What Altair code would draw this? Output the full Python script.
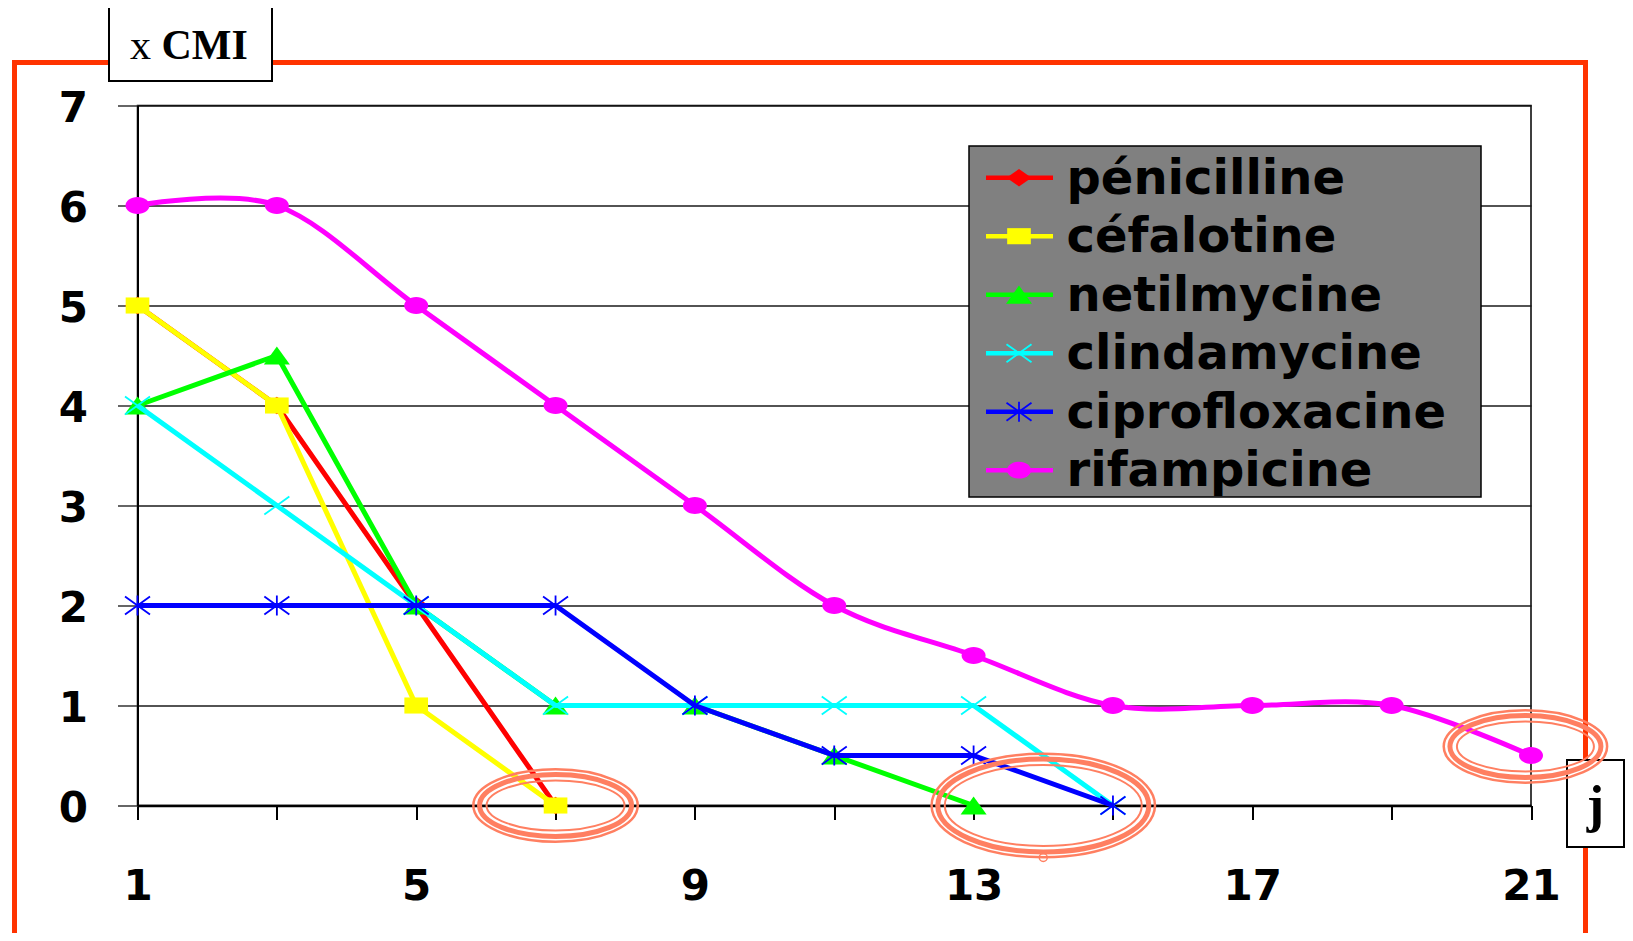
import altair as alt
import pandas as pd

# ---------------- data ----------------
days = [1, 3, 5, 7, 9, 11, 13, 15, 17, 19, 21]
series_names = ["pénicilline", "céfalotine", "netilmycine",
                "clindamycine", "ciprofloxacine", "rifampicine"]
penicilline = [5, 4, 2, 0]
cefalotine = [5, 4, 1, 0]
netilmycine = [4, 4.5, 2, 1, 1, 0.5, 0]
clindamycine = [4, 3, 2, 1, 1, 1, 1, 0]
ciprofloxacine = [2, 2, 2, 2, 1, 0.5, 0.5, 0]
rifampicine = [6, 6, 5, 4, 3, 2, 1.5, 1, 1, 1, 0.5]
series_values = [penicilline, cefalotine, netilmycine,
                 clindamycine, ciprofloxacine, rifampicine]

y_ticks = [0, 1, 2, 3, 4, 5, 6, 7]
x_ticks = days
x_labels = [1, 5, 9, 13, 17, 21]

# highlighted end points (annotation ellipses)
highlight_days = [7, 14, 20.92]
highlight_values = [0, 0, 0.59]

# ---------------- styles ----------------
colors = ["#FF0000", "#FFFF00", "#00FF00", "#00FFFF", "#0000FF", "#FF00FF"]
SALMON = "#FF7F61"
FRAME = "#FF3300"
LABEL_FONT = "DejaVu Sans"
SERIF = "Liberation Serif"
LINE_W = 5


def ell(r):
    k = 0.5523
    return (f"M-1,0 C-1,{-k*r:.4f} {-k:.4f},{-r:.4f} 0,{-r:.4f} "
            f"C{k:.4f},{-r:.4f} 1,{-k*r:.4f} 1,0 "
            f"C1,{k*r:.4f} {k:.4f},{r:.4f} 0,{r:.4f} "
            f"C{-k:.4f},{r:.4f} -1,{k*r:.4f} -1,0 Z")


markers = [
    dict(shape="M-1,0 L0,-0.7 L1,0 L0,0.7 Z", size=625, filled=True),
    dict(shape="M-1,-0.68 L1,-0.68 L1,0.68 L-1,0.68 Z", size=560, filled=True),
    dict(shape="M-1,0.7 L0,-0.7 L1,0.7 Z", size=676, filled=True),
    dict(shape="M-1,-0.72 L1,0.72 M-1,0.72 L1,-0.72", size=625, filled=False),
    dict(shape="M-1,-0.72 L1,0.72 M-1,0.72 L1,-0.72 M0,-0.8 L0,0.8", size=625, filled=False),
    dict(shape=ell(0.7), size=576, filled=True),
]

xscale = alt.Scale(domain=[1, 21], nice=False, zero=False)
yscale = alt.Scale(domain=[0, 7], nice=False, zero=False)

label_expr = "indexof([" + ",".join(str(v) for v in x_labels) + "], datum.value) >= 0 ? datum.label : ''"

xaxis = alt.Axis(values=x_ticks, labelExpr=label_expr, title=None, grid=False,
                 tickSize=14, tickWidth=2, tickColor="black",
                 domainColor="black", domainWidth=2.5,
                 labelFont=LABEL_FONT, labelFontWeight="bold", labelFontSize=42,
                 labelColor="black", labelPadding=47, labelFlush=False,
                 labelOverlap=False, labelBound=False)
yaxis = alt.Axis(values=y_ticks, title=None, grid=True, gridColor="#1a1a1a",
                 gridWidth=1.5, tickSize=20, tickWidth=1.5, tickColor="#333333",
                 domainColor="black", domainWidth=2,
                 labelFont=LABEL_FONT, labelFontWeight="bold", labelFontSize=42,
                 labelColor="black", labelPadding=30, labelOffset=3,
                 labelFlush=False, labelOverlap=False, labelBound=False)

dec = pd.DataFrame({"k": [0]})
layers = []

# red frame
layers.append(alt.Chart(dec).mark_rect(fillOpacity=0, stroke=FRAME, strokeWidth=5).encode(
    x=alt.value(-123), x2=alt.value(1448), y=alt.value(-43), y2=alt.value(833.5)))

# "x CMI" box
layers.append(alt.Chart(dec).mark_rect(fill="white", stroke="black", strokeWidth=2).encode(
    x=alt.value(-28.5), x2=alt.value(134.5), y=alt.value(-98.5), y2=alt.value(-24.5)))
layers.append(alt.Chart(dec).mark_text(text="x", font=SERIF, fontSize=42, align="left",
                                       baseline="alphabetic", color="black").encode(
    x=alt.value(-7.5), y=alt.value(-46.5)))
layers.append(alt.Chart(dec).mark_text(text="CMI", font=SERIF, fontSize=42, fontWeight="bold",
                                       align="left", baseline="alphabetic", color="black").encode(
    x=alt.value(24), y=alt.value(-46.5)))

# "j" box
layers.append(alt.Chart(dec).mark_rect(fill="white", stroke="black", strokeWidth=2).encode(
    x=alt.value(1429.5), x2=alt.value(1486.5), y=alt.value(654.5), y2=alt.value(741.5)))
layers.append(alt.Chart(dec).mark_text(text="j", font=SERIF, fontSize=52, fontWeight="bold",
                                       align="center", baseline="alphabetic", color="black").encode(
    x=alt.value(1458), y=alt.value(716.5)))

# series
for name, vals, col, mk in zip(series_names, series_values, colors, markers):
    df = pd.DataFrame({"day": days[:len(vals)], "value": vals, "drug": name})
    enc = dict(x=alt.X("day:Q", scale=xscale, axis=xaxis),
               y=alt.Y("value:Q", scale=yscale, axis=yaxis))
    interp = "cardinal" if name == "rifampicine" else "linear"
    layers.append(alt.Chart(df).mark_line(color=col, strokeWidth=LINE_W, interpolate=interp,
                                          strokeJoin="round").encode(**enc))
    if mk["filled"]:
        pm = alt.Chart(df).mark_point(shape=mk["shape"], size=mk["size"], filled=True,
                                      color=col, opacity=1, strokeWidth=0)
    else:
        pm = alt.Chart(df).mark_point(shape=mk["shape"], size=mk["size"], filled=False,
                                      color=col, opacity=1, strokeWidth=1.8)
    layers.append(pm.encode(**enc))

# legend
layers.append(alt.Chart(dec).mark_rect(fill="#808080", stroke="black", strokeWidth=1.5).encode(
    x=alt.value(831.5), x2=alt.value(1343.5), y=alt.value(40.5), y2=alt.value(391.5)))
for i, (name, col, mk) in enumerate(zip(series_names, colors, markers)):
    ly = 72.2 + 58.5 * i
    ld = pd.DataFrame({"name": [name]})
    layers.append(alt.Chart(ld).mark_rule(color=col, strokeWidth=4.5).encode(
        x=alt.value(848.5), x2=alt.value(915.5), y=alt.value(ly)))
    if mk["filled"]:
        lp = alt.Chart(ld).mark_point(shape=mk["shape"], size=mk["size"], filled=True,
                                      color=col, opacity=1, strokeWidth=0)
    else:
        lp = alt.Chart(ld).mark_point(shape=mk["shape"], size=mk["size"], filled=False,
                                      color=col, opacity=1, strokeWidth=1.8)
    layers.append(lp.encode(x=alt.value(881.5), y=alt.value(ly)))
    layers.append(alt.Chart(ld).mark_text(font=LABEL_FONT, fontSize=48, fontWeight="bold",
                                          align="left", baseline="alphabetic", color="black").encode(
        x=alt.value(929), y=alt.value(ly + 16), text="name:N"))

# highlight ellipses (triple rings)
ellipse_dims = [(167, 75), (226, 106), (166, 75)]
rings = [(1.3, 1.3, 2.5), (7.5, 6.5, 5), (14.5, 12.5, 2)]
for d, v, (W, H) in zip(highlight_days, highlight_values, ellipse_dims):
    hd = pd.DataFrame({"day": [d], "value": [v]})
    for ix, iy, sw in rings:
        w = W - 2 * ix
        h = H - 2 * iy
        layers.append(alt.Chart(hd).mark_point(shape=ell(h / w), size=w * w, filled=False,
                                               color=SALMON, opacity=1, strokeWidth=sw).encode(
            x=alt.X("day:Q", scale=xscale, axis=xaxis),
            y=alt.Y("value:Q", scale=yscale, axis=yaxis)))
# small circle on middle ellipse
sc = pd.DataFrame({"day": [14], "value": [-0.52]})
layers.append(alt.Chart(sc).mark_point(shape="circle", size=64, filled=False, color=SALMON,
                                       opacity=1, strokeWidth=1.5).encode(
    x=alt.X("day:Q", scale=xscale, axis=xaxis),
    y=alt.Y("value:Q", scale=yscale, axis=yaxis)))

chart = alt.layer(*layers).properties(
    width=1393.5, height=700,
    padding={"left": 129.5, "top": 97.5, "right": 94, "bottom": 127.5},
    autosize=alt.AutoSizeParams(type="none"),
    background="white",
).configure_view(stroke="black", strokeWidth=1.5)

chart.save("out.html", embed_options={"renderer": "svg", "actions": False})
